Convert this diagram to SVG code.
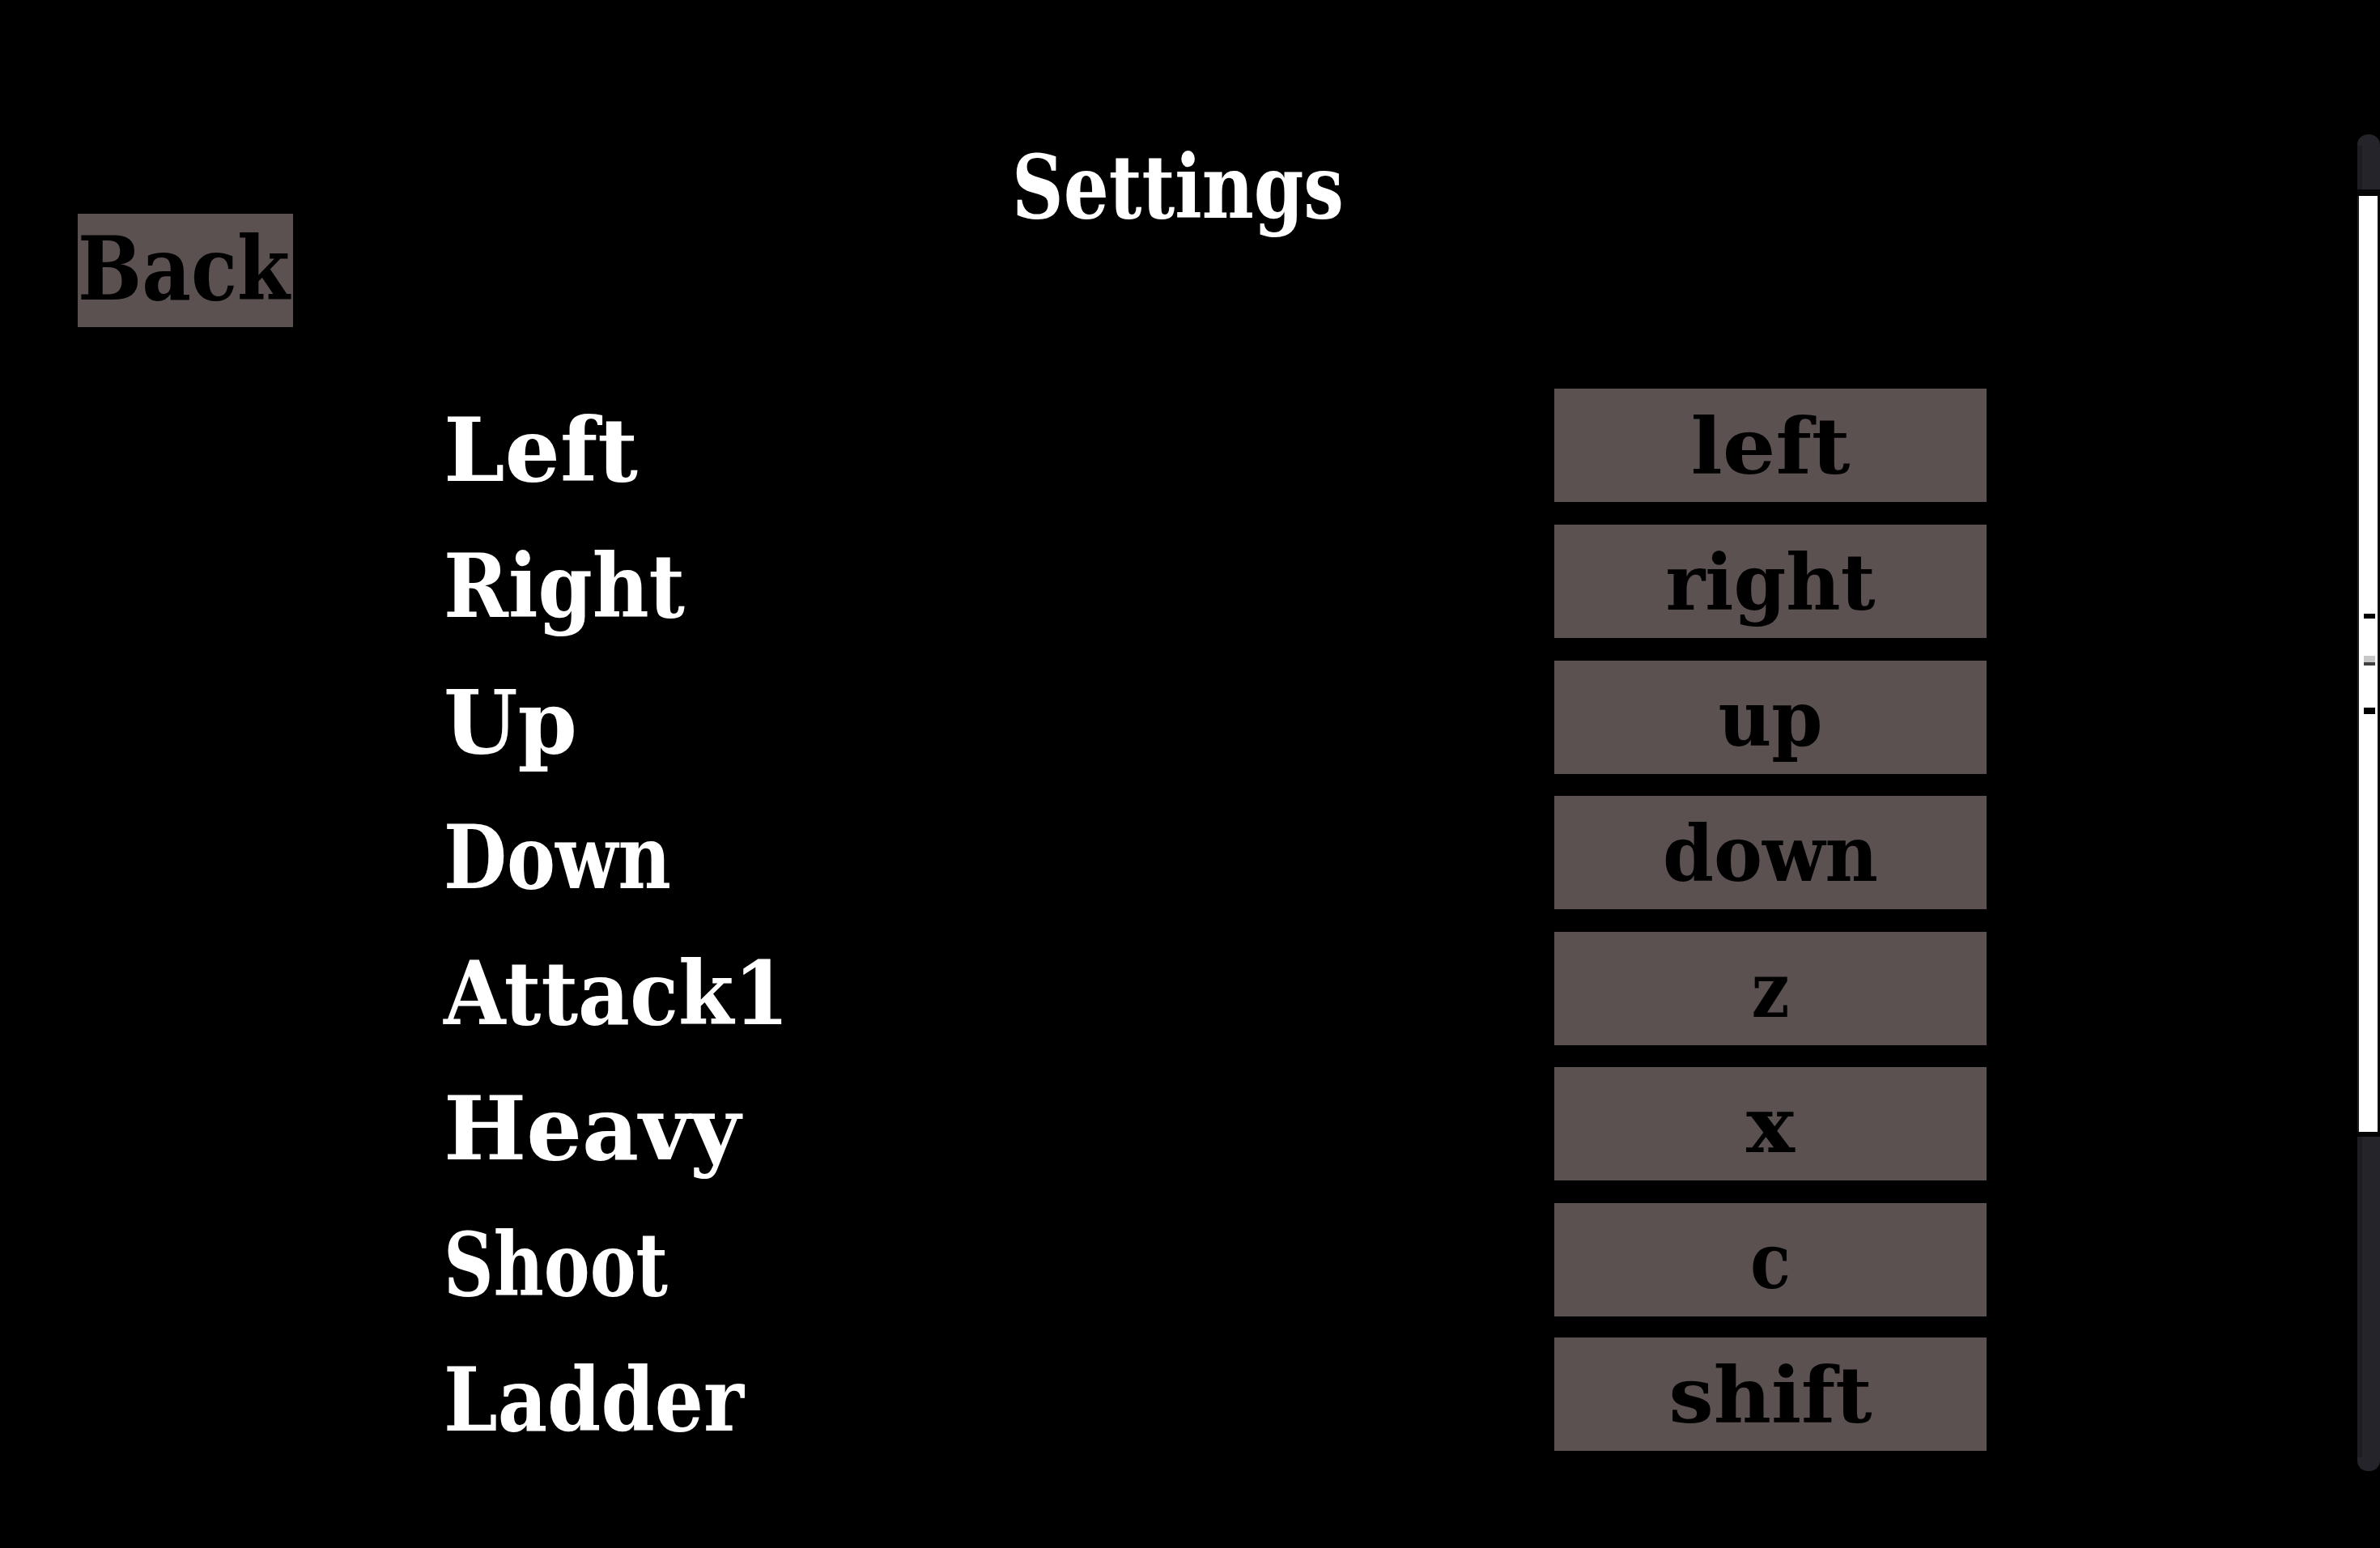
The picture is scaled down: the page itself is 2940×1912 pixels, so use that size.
<svg xmlns="http://www.w3.org/2000/svg" width="2940" height="1912" viewBox="0 0 2940 1912">
  <style>
    .bg { fill: #000000; }
    .title { font-family: "DejaVu Serif", "Liberation Serif", serif; font-weight: bold; font-size: 108px; fill: #ffffff; }
    .label { font-family: "DejaVu Serif", "Liberation Serif", serif; font-weight: bold; font-size: 108px; fill: #ffffff; }
    .btn { fill: #5a5150; }
    .btntext { font-family: "DejaVu Serif", "Liberation Serif", serif; font-weight: bold; font-size: 96px; fill: #000000; text-anchor: middle; }
    .backtext { font-family: "DejaVu Serif", "Liberation Serif", serif; font-weight: bold; font-size: 108px; fill: #000000; }
  </style>
  <rect class="bg" x="0" y="0" width="2940" height="1912"/>

  <g id="title">
    <text class="title" x="1250" y="269" textLength="410" lengthAdjust="spacingAndGlyphs">Settings</text>
  </g>

  <g id="back">
    <rect class="btn" x="96" y="264" width="266" height="140"/>
    <text class="backtext" x="96" y="370" textLength="262" lengthAdjust="spacingAndGlyphs">Back</text>
  </g>

  <g id="row-left">
    <text class="label" x="548" y="594" textLength="240" lengthAdjust="spacingAndGlyphs">Left</text>
    <rect class="btn" x="1920" y="480" width="534" height="140"/>
    <text class="btntext" x="2187" y="585" textLength="197" lengthAdjust="spacingAndGlyphs">left</text>
  </g>
  <g id="row-right">
    <text class="label" x="548" y="762" textLength="298" lengthAdjust="spacingAndGlyphs">Right</text>
    <rect class="btn" x="1920" y="648" width="534" height="140"/>
    <text class="btntext" x="2187" y="753" textLength="259" lengthAdjust="spacingAndGlyphs">right</text>
  </g>
  <g id="row-up">
    <text class="label" x="548" y="930" textLength="165" lengthAdjust="spacingAndGlyphs">Up</text>
    <rect class="btn" x="1920" y="816" width="534" height="140"/>
    <text class="btntext" x="2187" y="921" textLength="129" lengthAdjust="spacingAndGlyphs">up</text>
  </g>
  <g id="row-down">
    <text class="label" x="548" y="1097" textLength="281" lengthAdjust="spacingAndGlyphs">Down</text>
    <rect class="btn" x="1920" y="983" width="534" height="140"/>
    <text class="btntext" x="2187" y="1088" textLength="266" lengthAdjust="spacingAndGlyphs">down</text>
  </g>
  <g id="row-attack1">
    <text class="label" x="548" y="1265" textLength="427" lengthAdjust="spacingAndGlyphs">Attack1</text>
    <rect class="btn" x="1920" y="1151" width="534" height="140"/>
    <text class="btntext" x="2187" y="1256" textLength="47" lengthAdjust="spacingAndGlyphs">z</text>
  </g>
  <g id="row-heavy">
    <text class="label" x="548" y="1432" textLength="367" lengthAdjust="spacingAndGlyphs">Heavy</text>
    <rect class="btn" x="1920" y="1318" width="534" height="140"/>
    <text class="btntext" x="2187" y="1423" textLength="60" lengthAdjust="spacingAndGlyphs">x</text>
  </g>
  <g id="row-shoot">
    <text class="label" x="548" y="1600" textLength="277" lengthAdjust="spacingAndGlyphs">Shoot</text>
    <rect class="btn" x="1920" y="1486" width="534" height="140"/>
    <text class="btntext" x="2187" y="1591" textLength="50" lengthAdjust="spacingAndGlyphs">c</text>
  </g>
  <g id="row-ladder">
    <text class="label" x="548" y="1767" textLength="371" lengthAdjust="spacingAndGlyphs">Ladder</text>
    <rect class="btn" x="1920" y="1652" width="534" height="140"/>
    <text class="btntext" x="2187" y="1757" textLength="251" lengthAdjust="spacingAndGlyphs">shift</text>
  </g>

  <g id="scrollbar">
    <rect x="2912" y="166" width="28" height="1651" rx="13" ry="13" fill="#25242a"/>
    <rect x="2912" y="180" width="6" height="1620" fill="#1e1d22"/>
    <rect x="2912" y="234" width="28" height="8" fill="#050505"/>
    <rect x="2914" y="242" width="23" height="1156" fill="#ffffff"/>
    <rect x="2937" y="242" width="3" height="1156" fill="#050505"/>
    <rect x="2912" y="1398" width="28" height="6" fill="#050505"/>
    <rect x="2920" y="758" width="14" height="6" fill="#000000"/>
    <rect x="2920" y="810" width="14" height="8" fill="#c8c8c8"/>
    <rect x="2920" y="818" width="14" height="4" fill="#404040"/>
    <rect x="2920" y="874" width="14" height="8" fill="#000000"/>
  </g>
</svg>
